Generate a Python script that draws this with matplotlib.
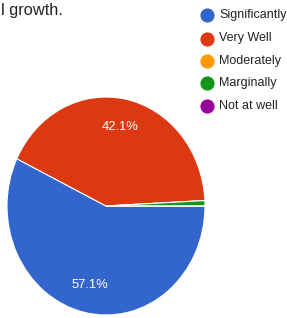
import matplotlib
matplotlib.use("Agg")
import matplotlib.pyplot as plt
from matplotlib.lines import Line2D

categories = ["Significantly", "Very Well", "Moderately", "Marginally", "Not at well"]
counts = [72, 53, 0, 1, 0]
colors = ["#3366cc", "#dc3912", "#ff9900", "#109618", "#990099"]
title_text = "l growth."

W, H = 287, 318
fig = plt.figure(figsize=(W / 100, H / 100), dpi=100)
plt.rcParams['font.family'] = ['Liberation Sans', 'DejaVu Sans']

# pie: ellipse center (106, 206), rx=99, ry=109 (pixels)
cx, cy, rx, ry = 106, 206, 99, 109
ax = fig.add_axes([(cx - rx) / W, (H - cy - ry) / H, 2 * rx / W, 2 * ry / H])

def pct(p):
    return f"{p:.1f}%" if p >= 5 else ""

wedges, texts, autotexts = ax.pie(
    counts, colors=colors, startangle=0, counterclock=False,
    autopct=pct, pctdistance=0.74,
    wedgeprops=dict(edgecolor="white", linewidth=0.8),
    textprops=dict(color="white", fontsize=9.4),
)
ax.set_aspect("auto")
ax.set_xlim(-1, 1)
ax.set_ylim(-1, 1)
ax.axis("off")

# title (cut off at left, as in reference)
fig.text(1 / W, 1 - 15 / H, title_text, fontsize=11.8, color="#222222",
         ha="left", va="baseline")

# legend
row_y = [15, 38.5, 61, 83, 106]
for cat, col, yy in zip(categories, colors, row_y):
    fig.add_artist(Line2D([206.5 / W], [1 - yy / H], marker="o", markersize=9.2,
                          color=col, linestyle="none", transform=fig.transFigure))
    fig.text(219 / W, 1 - yy / H, cat, fontsize=9, color="#222222",
             ha="left", va="center")

fig.savefig("out.png", dpi=100)
